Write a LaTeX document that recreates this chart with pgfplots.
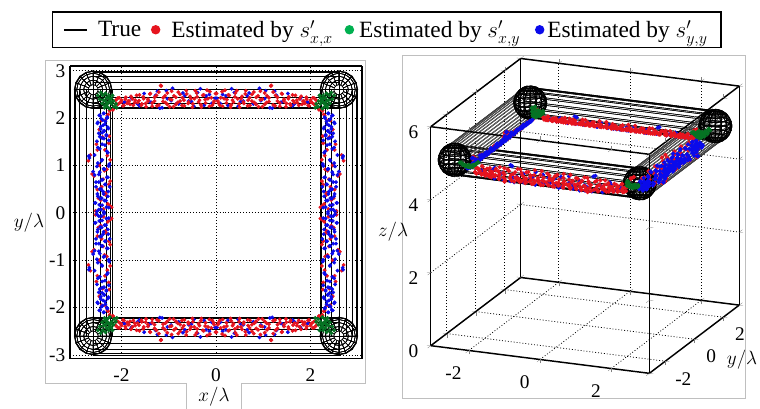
\documentclass[border=0pt]{standalone}
\usepackage{pgfplots}
\usepackage{pgfplotstable}
\usepackage{fontspec}
\setmainfont{Liberation Serif}
\pgfplotsset{compat=1.18}
\definecolor{cr}{RGB}{230,20,30}
\definecolor{cb}{RGB}{10,10,235}
\definecolor{cg}{RGB}{0,176,80}
\definecolor{cdg}{RGB}{5,115,35}
\pgfplotstableread[row sep=\\]{a d z\\
-2.25 .44 4.99\\ -2.18 .42 4.95\\ -2.12 .22 4.66\\ -2.08 .31 4.74\\ -2.05 .17 4.64\\ -2.01 .26 4.70\\ -1.97 .34 4.80\\ -1.92 .20 4.65\\ -1.88 .29 4.72\\ -1.84 .24 4.68\\
-1.80 .14 4.62\\ -1.75 .33 4.78\\ -1.71 .22 4.66\\ -1.66 .27 4.71\\ -1.62 .11 4.61\\ -1.57 .30 4.75\\ -1.53 .19 4.65\\ -1.48 .36 4.83\\ -1.44 .24 4.68\\ -1.39 .08 4.60\\
-1.35 .28 4.72\\ -1.30 .16 4.63\\ -1.25 .34 4.80\\ -1.21 .05 4.60\\ -1.17 -.09 4.61\\ -1.12 .25 4.69\\ -1.08 .13 4.62\\ -1.03 .31 4.76\\ -.98 .20 4.65\\ -.94 .03 4.60\\
-.90 .36 4.84\\ -.85 .16 4.63\\ -.81 .27 4.71\\ -.76 .10 4.61\\ -.72 .33 4.79\\ -.68 .22 4.66\\ -.63 .02 4.60\\ -.59 .29 4.73\\ -.55 .14 4.62\\ -.50 .37 4.86\\
-.46 .19 4.65\\ -.41 .07 4.60\\ -.37 .26 4.70\\ -.32 .32 4.77\\ -.28 .12 4.62\\ -.23 .21 4.66\\ -.19 .01 4.60\\ -.14 .35 4.82\\ -.10 .17 4.64\\ -.05 .28 4.72\\
-.01 .08 4.60\\ .04 .24 4.68\\ .08 .33 4.78\\ .13 .04 4.60\\ .17 .19 4.65\\ .22 .28 4.72\\ .26 .11 4.61\\ .31 .37 4.86\\ .35 .22 4.66\\ .40 .15 4.63\\
.44 .02 4.60\\ .49 .30 4.75\\ .53 .19 4.65\\ .58 .26 4.70\\ .62 .09 4.61\\ .67 .34 4.80\\ .71 .17 4.64\\ .76 .24 4.68\\ .80 .05 4.60\\ .85 .31 4.76\\
.89 .13 4.62\\ .94 .21 4.66\\ .98 .36 4.84\\ 1.03 .07 4.60\\ 1.07 .27 4.71\\ 1.12 .17 4.64\\ 1.16 -.08 4.61\\ 1.21 .32 4.77\\ 1.26 .12 4.62\\ 1.30 .24 4.68\\
1.35 .35 4.82\\ 1.40 .09 4.61\\ 1.44 .20 4.65\\ 1.49 .29 4.73\\ 1.54 .15 4.63\\ 1.58 .33 4.78\\ 1.63 .23 4.67\\ 1.68 .12 4.62\\ 1.72 .27 4.71\\ 1.77 .19 4.65\\
1.82 .31 4.76\\ 1.86 .24 4.68\\ 1.91 .16 4.63\\ 1.95 .33 4.79\\ 2.00 .22 4.66\\ 2.04 .28 4.72\\ 2.08 .18 4.64\\ 2.12 .30 4.75\\ 2.18 .42 4.95\\ 2.25 .44 4.99\\
}\redH
\pgfplotstableread[row sep=\\]{a d z\\
-1.95 .27 4.71\\ -1.78 .19 4.65\\ -1.62 .34 4.80\\ -1.41 .25 4.69\\ -1.28 .12 4.62\\ -1.19 .39 4.91\\ -1.05 .02 4.60\\ -.95 .23 4.67\\ -.84 .30 4.75\\ -.70 .07 4.60\\
-.58 .24 4.68\\ -.47 .35 4.82\\ -.33 -.02 4.60\\ -.21 .13 4.62\\ -.09 .29 4.73\\ .02 .18 4.64\\ .14 .10 4.61\\ .25 .33 4.78\\ .39 .06 4.60\\ .52 .25 4.69\\
.66 .13 4.62\\ .79 .30 4.75\\ .92 -.03 4.60\\ 1.03 .19 4.65\\ 1.14 .38 4.89\\ 1.24 .03 4.60\\ 1.37 .27 4.71\\ 1.52 .08 4.60\\ 1.66 .30 4.75\\ 1.80 .16 4.63\\ 1.93 .26 4.70\\
}\blueH
\pgfplotstableread[row sep=\\]{a d z\\
-2.05 .30 4.74\\ -1.78 .15 4.63\\ -1.62 .34 4.80\\ -1.45 .07 4.60\\ -1.33 .25 4.69\\ -1.22 -.06 4.60\\ -1.12 .36 4.84\\ -1.01 .12 4.62\\ -.92 .29 4.73\\ -.82 -.02 4.60\\
-.71 .21 4.66\\ -.60 .33 4.78\\ -.49 .09 4.61\\ -.38 .26 4.70\\ -.27 .16 4.63\\ -.15 .35 4.82\\ -.04 .05 4.60\\ .08 .22 4.66\\ .19 .31 4.76\\ .31 .11 4.61\\
.42 .27 4.71\\ .55 .18 4.64\\ .67 .36 4.84\\ .78 .02 4.60\\ .89 .24 4.68\\ 1.00 .13 4.62\\ 1.10 -.10 4.61\\ 1.21 .30 4.75\\ 1.33 .09 4.61\\ 1.47 .33 4.78\\
1.60 .20 4.65\\ 1.76 .13 4.62\\ 1.95 .25 4.69\\ 2.08 .32 4.77\\ -1.95 .18 4.64\\ .12 .39 4.91\\
}\redV
\pgfplotstableread[row sep=\\]{a d z\\
-2.10 .22 4.66\\ -2.06 .13 4.62\\ -2.02 .30 4.75\\ -1.98 .18 4.64\\ -1.93 .26 4.70\\ -1.89 .09 4.61\\ -1.85 .21 4.66\\ -1.81 .31 4.76\\ -1.77 .16 4.63\\ -1.73 .24 4.68\\
-1.69 .19 4.65\\ -1.65 .28 4.72\\ -1.61 .14 4.62\\ -1.57 .23 4.67\\ -1.53 .33 4.78\\ -1.45 .19 4.65\\ -1.38 .10 4.61\\ -1.30 .29 4.73\\ -1.22 .03 4.60\\ -1.16 -.08 4.61\\
-1.10 .18 4.64\\ -1.03 .34 4.80\\ -.98 .08 4.60\\ -.92 .24 4.68\\ -.86 .14 4.62\\ -.80 .03 4.60\\ -.75 .31 4.76\\ -.70 .20 4.65\\ -.65 .12 4.62\\ -.60 .26 4.70\\
-.55 .06 4.60\\ -.50 .17 4.64\\ -.45 .32 4.77\\ -.40 .22 4.66\\ -.35 .10 4.61\\ -.30 .15 4.63\\ -.26 .27 4.71\\ -.21 .05 4.60\\ -.16 .19 4.65\\ -.11 .33 4.78\\
-.07 .12 4.62\\ -.02 .23 4.67\\ .03 .08 4.60\\ .07 .17 4.64\\ .12 .28 4.72\\ .17 .13 4.62\\ .21 .04 4.60\\ .26 .24 4.68\\ .31 .18 4.64\\ .35 .31 4.76\\
.40 .09 4.61\\ .45 .21 4.66\\ .50 .14 4.62\\ .55 .35 4.82\\ .60 .25 4.69\\ .65 .06 4.60\\ .70 .18 4.64\\ .75 .29 4.73\\ .81 .12 4.62\\ .87 .00 4.60\\
.93 .22 4.66\\ .99 .33 4.78\\ 1.05 .10 4.61\\ 1.12 .19 4.65\\ 1.20 -.09 4.61\\ 1.27 .31 4.76\\ 1.35 .14 4.62\\ 1.43 .25 4.69\\ 1.51 .08 4.60\\ 1.58 .19 4.65\\
1.63 .28 4.72\\ 1.68 .12 4.62\\ 1.73 .23 4.67\\ 1.78 .32 4.77\\ 1.82 .16 4.63\\ 1.87 .25 4.69\\ 1.91 .10 4.61\\ 1.96 .20 4.65\\ 2.00 .29 4.73\\ 2.05 .15 4.63\\ 2.10 .23 4.67\\
}\blueV
\pgfplotstableread[row sep=\\]{p q z\\
.10 .12 4.90\\ .16 .06 4.92\\ .14 .20 4.83\\ .20 .12 4.86\\ .22 .22 4.81\\ .19 .29 4.78\\ .26 .08 4.84\\ .28 .17 4.80\\ .25 .33 4.76\\ .33 .12 4.82\\
.33 .26 4.77\\ .30 .36 4.75\\ .38 .18 4.81\\ .39 .30 4.78\\ .35 .40 4.78\\ .43 .24 4.83\\ .44 .36 4.82\\ .48 .30 4.86\\ .27 .25 4.78\\ .34 .19 4.80\\
.30 .30 4.76\\ .37 .25 4.79\\ .41 .12 4.85\\ .24 .38 4.77\\ .50 .38 4.88\\
}\green
\pgfplotstableread[row sep=\\]{x y z\\
1 0 0\\ .92 .38 0\\ .71 .71 0\\ .38 .92 0\\ 0 1 0\\ -.38 .92 0\\ -.71 .71 0\\ -.92 .38 0\\ -1 0 0\\ -.92 -.38 0\\ -.71 -.71 0\\ -.38 -.92 0\\ 0 -1 0\\ .38 -.92 0\\ .71 -.71 0\\ .92 -.38 0\\ 1 0 0\\
.97 0 .26\\ .89 .37 .26\\ .68 .68 .26\\ .37 .89 .26\\ 0 .97 .26\\ -.37 .89 .26\\ -.68 .68 .26\\ -.89 .37 .26\\ -.97 0 .26\\ -.89 -.37 .26\\ -.68 -.68 .26\\ -.37 -.89 .26\\ 0 -.97 .26\\ .37 -.89 .26\\ .68 -.68 .26\\ .89 -.37 .26\\ .97 0 .26\\
.87 0 .5\\ .80 .33 .5\\ .61 .61 .5\\ .33 .80 .5\\ 0 .87 .5\\ -.33 .80 .5\\ -.61 .61 .5\\ -.80 .33 .5\\ -.87 0 .5\\ -.80 -.33 .5\\ -.61 -.61 .5\\ -.33 -.80 .5\\ 0 -.87 .5\\ .33 -.80 .5\\ .61 -.61 .5\\ .80 -.33 .5\\ .87 0 .5\\
.71 0 .71\\ .65 .27 .71\\ .50 .50 .71\\ .27 .65 .71\\ 0 .71 .71\\ -.27 .65 .71\\ -.50 .50 .71\\ -.65 .27 .71\\ -.71 0 .71\\ -.65 -.27 .71\\ -.50 -.50 .71\\ -.27 -.65 .71\\ 0 -.71 .71\\ .27 -.65 .71\\ .50 -.50 .71\\ .65 -.27 .71\\ .71 0 .71\\
.5 0 .87\\ .46 .19 .87\\ .35 .35 .87\\ .19 .46 .87\\ 0 .5 .87\\ -.19 .46 .87\\ -.35 .35 .87\\ -.46 .19 .87\\ -.5 0 .87\\ -.46 -.19 .87\\ -.35 -.35 .87\\ -.19 -.46 .87\\ 0 -.5 .87\\ .19 -.46 .87\\ .35 -.35 .87\\ .46 -.19 .87\\ .5 0 .87\\
.26 0 .97\\ .24 .10 .97\\ .18 .18 .97\\ .10 .24 .97\\ 0 .26 .97\\ -.10 .24 .97\\ -.18 .18 .97\\ -.24 .10 .97\\ -.26 0 .97\\ -.24 -.10 .97\\ -.18 -.18 .97\\ -.10 -.24 .97\\ 0 -.26 .97\\ .10 -.24 .97\\ .18 -.18 .97\\ .24 -.10 .97\\ .26 0 .97\\
}\ball
\pgfplotstableread[row sep=\\]{a u v\\
-2.6 1 0\\ -2.6 .92 .38\\ -2.6 .71 .71\\ -2.6 .38 .92\\ -2.6 0 1\\ -2.6 -.38 .92\\ -2.6 -.71 .71\\ -2.6 -.92 .38\\ -2.6 -1 0\\ -2.6 -.92 -.38\\ -2.6 -.71 -.71\\ -2.6 -.38 -.92\\ -2.6 0 -1\\ -2.6 .38 -.92\\ -2.6 .71 -.71\\ -2.6 .92 -.38\\ -2.6 1 0\\
2.6 1 0\\ 2.6 .92 .38\\ 2.6 .71 .71\\ 2.6 .38 .92\\ 2.6 0 1\\ 2.6 -.38 .92\\ 2.6 -.71 .71\\ 2.6 -.92 .38\\ 2.6 -1 0\\ 2.6 -.92 -.38\\ 2.6 -.71 -.71\\ 2.6 -.38 -.92\\ 2.6 0 -1\\ 2.6 .38 -.92\\ 2.6 .71 -.71\\ 2.6 .92 -.38\\ 2.6 1 0\\
}\tube
\pgfplotstableread[row sep=\\]{a u v\\
-2.6 .98 .20\\ -2.6 .83 .56\\ -2.6 .56 .83\\ -2.6 .20 .98\\ -2.6 -.20 .98\\ -2.6 -.56 .83\\ -2.6 -.83 .56\\ -2.6 -.98 .20\\ -2.6 -.98 -.20\\ -2.6 -.83 -.56\\ -2.6 -.56 -.83\\ -2.6 -.20 -.98\\ -2.6 .20 -.98\\ -2.6 .56 -.83\\ -2.6 .83 -.56\\ -2.6 .98 -.20\\ -2.6 .98 .20\\
2.6 .98 .20\\ 2.6 .83 .56\\ 2.6 .56 .83\\ 2.6 .20 .98\\ 2.6 -.20 .98\\ 2.6 -.56 .83\\ 2.6 -.83 .56\\ 2.6 -.98 .20\\ 2.6 -.98 -.20\\ 2.6 -.83 -.56\\ 2.6 -.56 -.83\\ 2.6 -.20 -.98\\ 2.6 .20 -.98\\ 2.6 .56 -.83\\ 2.6 .83 -.56\\ 2.6 .98 -.20\\ 2.6 .98 .20\\
}\tubeB
\newcommand\tl{\fontsize{14.5}{16}\selectfont}
\pgfplotsset{
 dotr/.style={only marks,mark=*,mark size=1.25pt,color=cr,mark options={draw=none,fill=cr}},
 dotb/.style={only marks,mark=*,mark size=1.25pt,color=cb,mark options={draw=none,fill=cb}},
 dotg/.style={only marks,mark=*,mark size=1.3pt,color=cdg,mark options={draw=none,fill=cdg}},
 tb/.style={mesh,draw=black,line width=.4pt,mesh/rows=2,mesh/cols=17},
 bl/.style={mesh,draw=black,mesh/rows=6,mesh/cols=17},
 gridd/.style={grid=major,grid style={black,line width=.55pt,dash pattern=on .7pt off 1.5pt}},
}
\newcommand\balls[2]{%
 \addplot3[bl,#2] table[x expr=\thisrow{x}*#1-2.6,y expr=\thisrow{y}*#1+2.6,z expr=5+\thisrow{z}*#1]{\ball};
 \addplot3[bl,#2] table[x expr=\thisrow{x}*#1+2.6,y expr=\thisrow{y}*#1+2.6,z expr=5+\thisrow{z}*#1]{\ball};
 \addplot3[bl,#2] table[x expr=\thisrow{x}*#1-2.6,y expr=\thisrow{y}*#1-2.6,z expr=5+\thisrow{z}*#1]{\ball};
 \addplot3[bl,#2] table[x expr=\thisrow{x}*#1+2.6,y expr=\thisrow{y}*#1-2.6,z expr=5+\thisrow{z}*#1]{\ball};
 \addplot3[bl,#2] table[x expr=\thisrow{x}*#1-2.6,y expr=\thisrow{y}*#1+2.6,z expr=5-\thisrow{z}*#1]{\ball};
 \addplot3[bl,#2] table[x expr=\thisrow{x}*#1+2.6,y expr=\thisrow{y}*#1+2.6,z expr=5-\thisrow{z}*#1]{\ball};
 \addplot3[bl,#2] table[x expr=\thisrow{x}*#1-2.6,y expr=\thisrow{y}*#1-2.6,z expr=5-\thisrow{z}*#1]{\ball};
 \addplot3[bl,#2] table[x expr=\thisrow{x}*#1+2.6,y expr=\thisrow{y}*#1-2.6,z expr=5-\thisrow{z}*#1]{\ball};}
\newcommand\tubesX[2]{%
 \addplot3[tb,#2] table[x=a,y expr=2.6+.4*\thisrow{u},z expr=5+.4*\thisrow{v}]{#1};
 \addplot3[tb,#2] table[x=a,y expr=-2.6+.4*\thisrow{u},z expr=5+.4*\thisrow{v}]{#1};}
\newcommand\tubesY[2]{%
 \addplot3[tb,#2] table[y=a,x expr=2.6+.4*\thisrow{u},z expr=5+.4*\thisrow{v}]{#1};
 \addplot3[tb,#2] table[y=a,x expr=-2.6+.4*\thisrow{u},z expr=5+.4*\thisrow{v}]{#1};}
\newcommand\ptsH[2]{%
 \addplot3[#2] table[x=a,y expr=2.6-\thisrow{d},z=z]{#1};
 \addplot3[#2] table[x expr=-\thisrow{a},y expr=2.6-\thisrow{d},z=z]{#1};
 \addplot3[#2] table[x=a,y expr=-2.6+\thisrow{d},z=z]{#1};
 \addplot3[#2] table[x expr=-\thisrow{a},y expr=-2.6+\thisrow{d},z=z]{#1};}
\newcommand\ptsV[2]{%
 \addplot3[#2] table[y=a,x expr=2.6-\thisrow{d},z=z]{#1};
 \addplot3[#2] table[y expr=-\thisrow{a},x expr=2.6-\thisrow{d},z=z]{#1};
 \addplot3[#2] table[y=a,x expr=-2.6+\thisrow{d},z=z]{#1};
 \addplot3[#2] table[y expr=-\thisrow{a},x expr=-2.6+\thisrow{d},z=z]{#1};}
\newcommand\ptsG[1]{%
 \addplot3[dotg,#1] table[x expr=-2.6+\thisrow{p},y expr=2.6-\thisrow{q},z=z]{\green};
 \addplot3[dotg,#1] table[x expr=2.6-\thisrow{p},y expr=2.6-\thisrow{q},z=z]{\green};
 \addplot3[dotg,#1] table[x expr=-2.6+\thisrow{p},y expr=-2.6+\thisrow{q},z=z]{\green};
 \addplot3[dotg,#1] table[x expr=2.6-\thisrow{p},y expr=-2.6+\thisrow{q},z=z]{\green};}
\begin{document}
\begin{tikzpicture}
\useasboundingbox (0,0) rectangle (570pt,306.75pt);
\begin{scope}[x=.75pt,y=-.75pt,yshift=306.75pt]
\draw[black!25,line width=.6pt] (186.7,409)--(186.7,383)--(45.7,383)--(45.7,60.7)--(365,60.7)--(365,383)--(241,383)--(241,409);
\draw[black!25,line width=.6pt] (402,55.7) rectangle (745,398);
\end{scope}
\begin{axis}[at={(52.5pt,37.7pt)},anchor=south west,scale only axis,width=219pt,height=219.5pt,view={0}{90},
 xmin=-3.09,xmax=3.09,ymin=-3.08,ymax=3.1,zmin=0,zmax=6,xtick={-2,0,2},xticklabels={-2,0,2},ytick={-3,-2,-1,0,1,2,3},yticklabels={-3,-2,-1,0,1,2,3},ztick=\empty,
 tick label style={font=\tl},gridd,major tick length=0pt,axis line style={line width=1pt},
 xticklabel style={yshift=-4pt},yticklabel style={xshift=0pt},
 legend style={at={(-0.0627,1.124)},anchor=west,legend columns=4,draw=black,line width=1pt,font=\fontsize{17.5}{19}\selectfont,
  inner ysep=4pt,inner xsep=8pt,
  /tikz/column 1/.style={column sep=6pt},/tikz/column 2/.style={column sep=5.8pt},
  /tikz/column 3/.style={column sep=6.7pt},/tikz/column 4/.style={column sep=7.3pt},
  /tikz/column 5/.style={column sep=2.3pt},/tikz/column 6/.style={column sep=9.6pt},
  /tikz/column 7/.style={column sep=.7pt}},legend cell align=left]
\addlegendimage{black,line width=1.2pt}
\addlegendimage{only marks,mark=*,mark size=3pt,color=cr}
\addlegendimage{only marks,mark=*,mark size=3pt,color=cg}
\addlegendimage{only marks,mark=*,mark size=3pt,color=cb}
\addlegendentry{True}
\addlegendentry{Estimated by $s'_{x,x}$}
\addlegendentry{Estimated by $s'_{x,y}$}
\addlegendentry{Estimated by $s'_{y,y}$\hspace{20pt}}
\tubesX{\tube}{}\tubesY{\tube}{}
\balls{.4}{line width=.35pt}
\ptsH{\blueH}{dotb}\ptsH{\redH}{dotr}\ptsV{\redV}{dotr}\ptsV{\blueV}{dotb}\ptsG{}
\end{axis}
\begin{axis}[at={(438.75pt,62.7pt)},anchor=origin,x={(26.7pt,-3.375pt)},y={(10.875pt,8.25pt)},z={(0pt,27.375pt)},
 xmin=-3.07,xmax=3.07,ymin=-3.1,ymax=3.1,zmin=0,zmax=6,3d box=complete,
 every axis/.append style={line width=1.1pt},
 xtick={-2,0,2},xticklabels={-2,0,2},ytick={-2,0,2},yticklabels={-2,0,2},ztick={0,2,4,6},zticklabels={0,2,4,6},
 tick label style={font=\tl},gridd,major tick length=3pt,tick align=outside,axis line style={line width=1.1pt},
 x axis line style={line width=1.1pt},y axis line style={line width=1.1pt},z axis line style={line width=1.1pt},
 every 3d box foreground/.append style={line width=1.1pt},
 xticklabel style={xshift=-4.5pt,yshift=-6pt},yticklabel style={xshift=2pt,yshift=-3.5pt},zticklabel style={xshift=-3pt}]
\tubesX{\tube}{}
\tubesY{\tube}{line width=.25pt,draw=black!75}\tubesY{\tubeB}{line width=.25pt,draw=black!75}
\balls{.43}{line width=.6pt}
\ptsH{\blueH}{dotb,mark size=.95pt}\ptsH{\redH}{dotr,mark size=.95pt}\ptsV{\redV}{dotr,mark size=.95pt}\ptsV{\blueV}{dotb,mark size=.95pt}\ptsG{mark size=1.1pt}
\end{axis}
\begin{scope}[x=.75pt,y=-.75pt,yshift=306.75pt]
\node[font=\fontsize{15}{17}\selectfont] at (214,397) {$x/\lambda$};
\node[font=\fontsize{15}{17}\selectfont] at (29,223) {$y/\lambda$};
\node[font=\fontsize{15}{17}\selectfont] at (393,232) {$z/\lambda$};
\node[font=\fontsize{15}{17}\selectfont] at (742,360) {$y/\lambda$};
\end{scope}
\end{tikzpicture}
\end{document}
